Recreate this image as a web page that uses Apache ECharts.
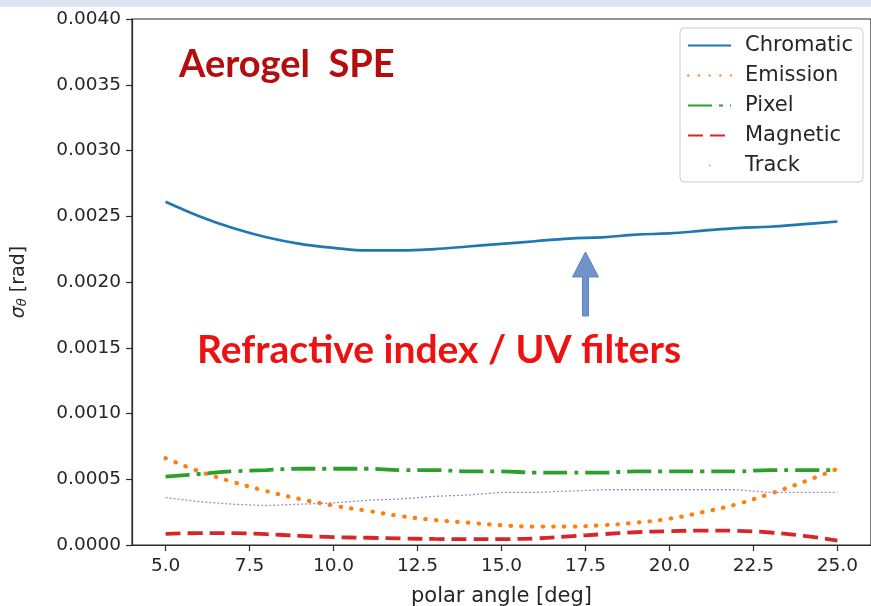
<!DOCTYPE html>
<html>
<head>
<meta charset="utf-8">
<script src="https://cdn.jsdelivr.net/npm/echarts@6/dist/echarts.min.js"></script>
<style>
  html, body { margin: 0; padding: 0; background: #ffffff; }
  #chart { width: 871px; height: 606px; }
</style>
</head>
<body>
<div id="chart"></div>
<script>
// Polar angle samples [deg]
const angles = [5, 6, 7, 8, 9, 10, 11, 12, 13, 14, 15, 16, 17, 18, 19, 20, 21, 22, 23, 24, 25];

// Angular resolution contributions sigma_theta [rad]
const chromatic = [0.00261, 0.00250, 0.00241, 0.00234, 0.00229, 0.00226, 0.00224, 0.00224, 0.00225, 0.00227, 0.00229,
                   0.00231, 0.00233, 0.00234, 0.00236, 0.00237, 0.00239, 0.00241, 0.00242, 0.00244, 0.00246];
const emission  = [0.00066, 0.00056, 0.00048, 0.00041, 0.00035, 0.00030, 0.00026, 0.00022, 0.00019, 0.00017, 0.00015,
                   0.00014, 0.00014, 0.00015, 0.00017, 0.00020, 0.00025, 0.00031, 0.00039, 0.00048, 0.00058];
const pixel     = [0.00052, 0.00054, 0.00056, 0.00057, 0.00058, 0.00058, 0.00058, 0.00057, 0.00057, 0.00056, 0.00056,
                   0.00055, 0.00055, 0.00055, 0.00056, 0.00056, 0.00056, 0.00056, 0.00057, 0.00057, 0.00057];
const magnetic  = [0.000085, 0.000090, 0.000090, 0.000082, 0.000070, 0.000060, 0.000055, 0.000050, 0.000046, 0.000045, 0.000045,
                   0.000050, 0.000065, 0.000082, 0.000097, 0.000105, 0.000110, 0.000108, 0.000095, 0.000070, 0.000033];
const track     = [0.00036, 0.00033, 0.00031, 0.00030, 0.00031, 0.00032, 0.00034, 0.00035, 0.00037, 0.00038, 0.00040,
                   0.00040, 0.00041, 0.00042, 0.00042, 0.00042, 0.00042, 0.00042, 0.00040, 0.00040, 0.00040];

// Axis ticks
const xTicks = [5, 7.5, 10, 12.5, 15, 17.5, 20, 22.5, 25];
const seriesNames = ['Chromatic', 'Emission', 'Pixel', 'Magnetic', 'Track'];

// Arrow annotation points at the chromatic curve around 17.5 deg
const arrowAngle = 17.5;

const pairs = (ys) => angles.map((x, i) => [x, ys[i]]);
const tickFont = 'DejaVu Sans';

const chart = echarts.init(document.getElementById('chart'), null, { renderer: 'canvas' });

const option = {
  animation: false,
  backgroundColor: '#ffffff',
  grid: {
    left: 132, right: 0, top: 19, bottom: 61,
    outerBoundsMode: 'none', containLabel: false,
    show: true, borderColor: '#2b2b2b', borderWidth: 1.2, backgroundColor: 'transparent'
  },
  xAxis: {
    type: 'value', min: 4, max: 26,
    name: 'polar angle [deg]', nameLocation: 'middle', nameGap: 41,
    nameTextStyle: { fontFamily: tickFont, fontSize: 21, color: '#262626' },
    axisLine: { show: true, onZero: false, lineStyle: { color: '#2b2b2b', width: 1.2 } },
    axisTick: { show: true, customValues: xTicks, length: 6, lineStyle: { color: '#2b2b2b', width: 1.2 } },
    axisLabel: {
      customValues: xTicks, margin: 12,
      formatter: (v) => Number(v).toFixed(1),
      fontFamily: tickFont, fontSize: 18.5, color: '#262626'
    },
    splitLine: { show: false }
  },
  yAxis: {
    type: 'value', min: 0, max: 0.004, interval: 0.0005,
    name: '{s|σ}{sub|θ} [rad]', nameLocation: 'middle', nameRotate: 90, nameGap: 103,
    nameTextStyle: {
      fontFamily: tickFont, fontSize: 19, color: '#262626',
      rich: {
        s: { fontFamily: tickFont, fontSize: 19, fontStyle: 'italic', color: '#262626' },
        sub: { fontFamily: tickFont, fontSize: 13, fontStyle: 'italic', color: '#262626', verticalAlign: 'bottom', padding: [7, 0, 0, 0] }
      }
    },
    axisLine: { show: true, lineStyle: { color: '#2b2b2b', width: 1.2 } },
    axisTick: { show: true, length: 6, lineStyle: { color: '#2b2b2b', width: 1.2 } },
    axisLabel: {
      margin: 11,
      formatter: (v) => Number(v).toFixed(4),
      fontFamily: tickFont, fontSize: 18.5, color: '#262626'
    },
    splitLine: { show: false }
  },
  legend: {
    orient: 'vertical', left: 680, top: 28,
    padding: [7, 10, 6, 7],
    itemWidth: 43, itemHeight: 14, itemGap: 9,
    backgroundColor: 'rgba(255,255,255,0.85)',
    borderColor: '#cccccc', borderWidth: 1, borderRadius: 4,
    itemStyle: { opacity: 0 },
    textStyle: { fontFamily: tickFont, fontSize: 21, color: '#262626', lineHeight: 20, padding: [0, 0, 0, 9] },
    data: [
      { name: 'Chromatic' },
      { name: 'Emission' },
      { name: 'Pixel' },
      { name: 'Magnetic' },
      { name: 'Track', lineStyle: { type: [1.5, 200], dashOffset: -21, width: 1.5, color: '#a58bd0' } }
    ]
  },
  series: [
    {
      name: seriesNames[0], type: 'line', data: pairs(chromatic), smooth: 0.4, symbol: 'none',
      lineStyle: { color: '#1f77b4', width: 2.7 }, itemStyle: { color: '#1f77b4' }, z: 3
    },
    {
      name: seriesNames[1], type: 'line', data: pairs(emission), smooth: 0.4, symbol: 'none',
      lineStyle: { color: '#ff7f0e', width: 4.2, type: [0.5, 10.2], cap: 'round' }, itemStyle: { color: '#ff7f0e' }, z: 4
    },
    {
      name: seriesNames[2], type: 'line', data: pairs(pixel), smooth: 0.4, symbol: 'none',
      lineStyle: { color: '#2ca02c', width: 3.8, type: [24, 7, 4, 7] }, itemStyle: { color: '#2ca02c' }, z: 5
    },
    {
      name: seriesNames[3], type: 'line', data: pairs(magnetic), smooth: 0.4, symbol: 'none',
      lineStyle: { color: '#d62728', width: 3.8, type: [15, 7] }, itemStyle: { color: '#d62728' }, z: 6
    },
    {
      name: seriesNames[4], type: 'line', data: pairs(track), smooth: false, symbol: 'none',
      lineStyle: { color: '#a58bd0', width: 1.3, type: [2, 2] }, itemStyle: { color: '#a58bd0' }, z: 7
    }
  ]
};

chart.setOption(option);

// Interpolate the chromatic curve at the arrow angle for the annotation anchor
const i0 = angles.findIndex((a) => a > arrowAngle) - 1;
const t = (arrowAngle - angles[i0]) / (angles[i0 + 1] - angles[i0]);
const arrowVal = chromatic[i0] + t * (chromatic[i0 + 1] - chromatic[i0]);
const tip = chart.convertToPixel({ gridIndex: 0 }, [arrowAngle, arrowVal]);
const ax = tip[0], ay = tip[1] + 14;

chart.setOption({
  graphic: [
    {
      type: 'rect', left: 0, top: 0, z: 100,
      shape: { width: 871, height: 7 },
      style: { fill: '#dce6f2' }
    },
    {
      type: 'text', left: 179, top: 46, z: 100,
      style: {
        text: 'Aerogel  SPE', fill: '#b50d0d',
        font: 'bold 38px Lato, "Open Sans", sans-serif'
      }
    },
    {
      type: 'text', left: 197, top: 331, z: 100,
      style: {
        text: 'Refractive index / UV filters', fill: '#ee1111',
        font: 'bold 39px Lato, "Open Sans", sans-serif'
      }
    },
    {
      type: 'polygon', z: 100,
      shape: {
        points: [
          [ax, ay], [ax + 13, ay + 25], [ax + 3, ay + 25], [ax + 3, ay + 64],
          [ax - 3, ay + 64], [ax - 3, ay + 25], [ax - 13, ay + 25]
        ]
      },
      style: { fill: '#6f93ca', stroke: '#5d82bc', lineWidth: 1 }
    }
  ]
});
</script>
</body>
</html>
